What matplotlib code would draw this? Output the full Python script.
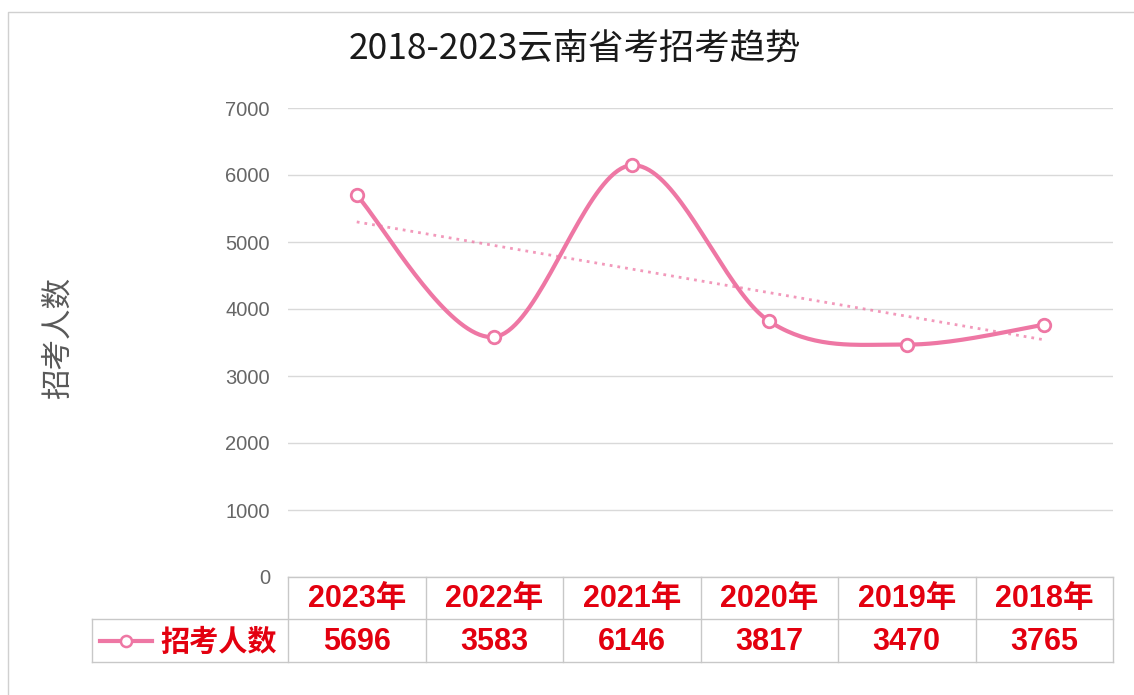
"""
云南省考招考趋势折线图（带数据表）
"""
import matplotlib
matplotlib.use("Agg")
import matplotlib.pyplot as plt
import numpy as np

plt.rcParams["font.family"] = ["Noto Sans CJK SC", "DejaVu Sans"]

# 数据
years = ["2023年", "2022年", "2021年", "2020年", "2019年", "2018年"]
counts = [5696, 3583, 6146, 3817, 3470, 3765]
trend_ends = [5300, 3540]          # 图中虚线趋势线两端读数
y_ticks = [0, 1000, 2000, 3000, 4000, 5000, 6000, 7000]
series_name = "招考人数"
title = "2018-2023云南省考招考趋势"

W, H = 1134, 695
PINK = "#EE77A4"
RED = "#E3000F"
GRID = "#D9D9D9"
TEXT_GRAY = "#595959"


def smooth_curve(xs, ys, n=40):
    """Excel 风格平滑线：三次贝塞尔，控制点取相邻点差的 1/6"""
    xs = np.asarray(xs, float)
    ys = np.asarray(ys, float)
    px = np.concatenate([[xs[0]], xs, [xs[-1]]])
    py = np.concatenate([[ys[0]], ys, [ys[-1]]])
    out_x, out_y = [], []
    t = np.linspace(0, 1, n)
    for i in range(len(xs) - 1):
        p0 = np.array([xs[i], ys[i]])
        p3 = np.array([xs[i + 1], ys[i + 1]])
        p1 = p0 + (np.array([px[i + 2], py[i + 2]]) - np.array([px[i], py[i]])) / 6
        p2 = p3 - (np.array([px[i + 3], py[i + 3]]) - np.array([px[i + 1], py[i + 1]])) / 6
        b = ((1 - t) ** 3)[:, None] * p0 + (3 * (1 - t) ** 2 * t)[:, None] * p1 \
            + (3 * (1 - t) * t ** 2)[:, None] * p2 + (t ** 3)[:, None] * p3
        out_x.extend(b[:, 0])
        out_y.extend(b[:, 1])
    return np.array(out_x), np.array(out_y)


fig = plt.figure(figsize=(W / 100, H / 100), dpi=100)
fig.patch.set_facecolor("white")

# 绘图区（像素位置换算）
left, right, top, bottom = 288, 1113, 108, 577
ax = fig.add_axes([left / W, 1 - bottom / H, (right - left) / W, (bottom - top) / H])
ax.set_xlim(-0.5, len(years) - 0.5)
ax.set_ylim(0, 7000)
for s in ax.spines.values():
    s.set_visible(False)
ax.set_yticks(y_ticks)
ax.set_yticklabels([str(v) for v in y_ticks], fontsize=14.5, color="#666666",
                   family=["Liberation Sans", "DejaVu Sans"])
ax.tick_params(axis="y", length=0, pad=13)
ax.set_xticks([])
ax.grid(axis="y", color=GRID, linewidth=1)
ax.set_axisbelow(True)

x = np.arange(len(years))
sx, sy = smooth_curve(x, counts)
ax.plot(sx, sy, color=PINK, linewidth=3, solid_capstyle="round", zorder=3)
ax.plot(x, counts, linestyle="none", marker="o", markersize=9, markerfacecolor="white",
        markeredgecolor=PINK, markeredgewidth=2, zorder=4)
ax.plot([x[0], x[-1]], trend_ends, color=PINK, linestyle=(0, (1, 1.8)), linewidth=2,
        alpha=0.75, zorder=2)

# 标题与坐标轴标题
fig.text(575 / W, 1 - 50 / H, title, ha="center", va="center", fontsize=25.5, color="#1a1a1a")
fig.text(58 / W, 1 - 338 / H, series_name, ha="center", va="center", fontsize=22,
         color=TEXT_GRAY, rotation=90)

# 图表外框
tf = fig.transFigure
def P(px, py):
    return px / W, 1 - py / H

bx = [P(8, 695)[0], P(8, 12)[0], P(1134, 12)[0]]
by = [P(8, 695)[1], P(8, 12)[1], P(1134, 12)[1]]
fig.add_artist(plt.Line2D(bx, by, transform=tf, color="#D0D0D0", linewidth=1))

# 数据表
col_w = (right - left) / len(years)
row1, row2, row3 = 577, 619, 662
legend_left = 92
table_col = "#C8C8C8"
lines = [
    ((left, row1), (right, row1)),
    ((legend_left, row2), (right, row2)),
    ((legend_left, row3), (right, row3)),
    ((legend_left, row2), (legend_left, row3)),
]
for k in range(len(years) + 1):
    xx = left + k * col_w
    lines.append(((xx, row1), (xx, row3)))
for (x0, y0), (x1, y1) in lines:
    a, b = P(x0, y0), P(x1, y1)
    fig.add_artist(plt.Line2D([a[0], b[0]], [a[1], b[1]], transform=tf, color=table_col, linewidth=1))

cell_font = dict(fontsize=22, fontweight="bold", color=RED,
                 family=["Liberation Sans", "Noto Sans CJK SC"], ha="center", va="center")
for i, (yr, v) in enumerate(zip(years, counts)):
    cx = left + (i + 0.5) * col_w
    fig.text(*P(cx, (row1 + row2) / 2 + 1), yr, **cell_font)
    fig.text(*P(cx, (row2 + row3) / 2 + 1), str(v), **cell_font)

# 图例（表格左侧）
ly = (row2 + row3) / 2
a, b = P(100, ly), P(152, ly)
fig.add_artist(plt.Line2D([a[0], b[0]], [a[1], b[1]], transform=tf, color=PINK, linewidth=3))
c = P(126, ly)
fig.add_artist(plt.Line2D([c[0]], [c[1]], transform=tf, marker="o", markersize=8,
                          markerfacecolor="white", markeredgecolor=PINK, markeredgewidth=1.8))
fig.text(*P(219, ly + 1), series_name, fontsize=21, fontweight="bold", color=RED,
         ha="center", va="center", family=["Noto Sans CJK SC", "DejaVu Sans"])

fig.savefig("out.png", dpi=100, facecolor="white")
